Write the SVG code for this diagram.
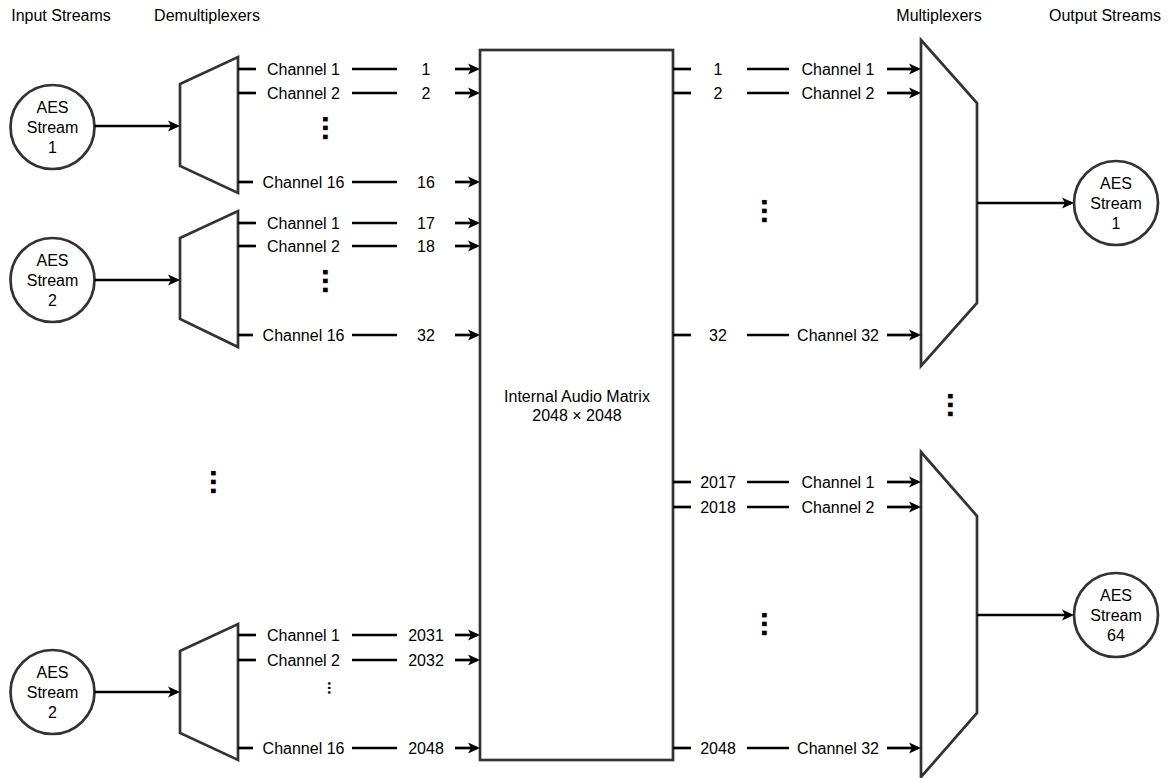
<svg xmlns="http://www.w3.org/2000/svg" width="1171" height="778" viewBox="0 0 1171 778">
<style>
.t{font-family:"Liberation Sans",Arial,Helvetica,sans-serif;font-size:16px;fill:#000;text-anchor:middle}
.shape{fill:#fff;stroke:#333;stroke-width:2.7}
.ln{stroke:#000;stroke-width:2.7;fill:none}
.arr{marker-end:url(#ah)}
.dots{font-weight:bold;font-size:32px}
.sdots{font-weight:bold;font-size:16px}
</style>
<defs>
<marker id="ah" viewBox="0 0 12 12" refX="9" refY="6" markerWidth="12" markerHeight="12" markerUnits="userSpaceOnUse" orient="auto">
<path d="M0,0.5 L12,6 L0,11.5 L3,6 z" fill="#000"/>
</marker>
</defs>
<rect width="1171" height="778" fill="#fff"/>
<g id="headers">
<text class="t" x="61" y="21">Input Streams</text>
<text class="t" x="207" y="21">Demultiplexers</text>
<text class="t" x="939" y="21">Multiplexers</text>
<text class="t" x="1105" y="21">Output Streams</text>
</g>
<g id="in1"><circle class="shape" cx="52.5" cy="127" r="42"/><text class="t" x="52.5" y="112.5">AES</text><text class="t" x="52.5" y="132.5">Stream</text><text class="t" x="52.5" y="152.5">1</text></g>
<g id="in2"><circle class="shape" cx="52.5" cy="280" r="42"/><text class="t" x="52.5" y="265.5">AES</text><text class="t" x="52.5" y="285.5">Stream</text><text class="t" x="52.5" y="305.5">2</text></g>
<g id="in3"><circle class="shape" cx="52.5" cy="692" r="42"/><text class="t" x="52.5" y="677.5">AES</text><text class="t" x="52.5" y="697.5">Stream</text><text class="t" x="52.5" y="717.5">2</text></g>
<g id="demux1"><polygon class="shape" points="180,84 238,57 238,193 180,166"/></g>
<g id="demux2"><polygon class="shape" points="180,238 238,211 238,347 180,319"/></g>
<g id="demux3"><polygon class="shape" points="180,651 238,624 238,760 180,733"/></g>
<g id="matrix"><rect class="shape" x="480" y="50" width="193" height="710"/><text class="t" x="577" y="402">Internal Audio Matrix</text><text class="t" x="577" y="421">2048 × 2048</text></g>
<g id="mux1"><polygon class="shape" points="921,40 977,103 977,303 921,366"/></g>
<g id="mux2"><polygon class="shape" points="921,452 977,516 977,713 921,777"/></g>
<g id="out1"><circle class="shape" cx="1116" cy="203" r="42"/><text class="t" x="1116" y="188.5">AES</text><text class="t" x="1116" y="208.5">Stream</text><text class="t" x="1116" y="228.5">1</text></g>
<g id="out2"><circle class="shape" cx="1116" cy="615" r="42"/><text class="t" x="1116" y="600.5">AES</text><text class="t" x="1116" y="620.5">Stream</text><text class="t" x="1116" y="640.5">64</text></g>
<g id="connectors">
<line class="ln arr" x1="94.5" y1="126" x2="177" y2="126"/>
<line class="ln arr" x1="94.5" y1="280" x2="177" y2="280"/>
<line class="ln arr" x1="94.5" y1="692" x2="177" y2="692"/>
<line class="ln arr" x1="977" y1="203" x2="1071" y2="203"/>
<line class="ln arr" x1="977" y1="615" x2="1071" y2="615"/>
<line class="ln" x1="238" y1="69" x2="256" y2="69"/><text class="t" x="303.5" y="74.5">Channel 1</text><line class="ln" x1="352" y1="69" x2="397" y2="69"/><text class="t" x="426" y="74.5">1</text><line class="ln arr" x1="455" y1="69" x2="477" y2="69"/>
<line class="ln" x1="238" y1="93" x2="256" y2="93"/><text class="t" x="303.5" y="98.5">Channel 2</text><line class="ln" x1="352" y1="93" x2="397" y2="93"/><text class="t" x="426" y="98.5">2</text><line class="ln arr" x1="455" y1="93" x2="477" y2="93"/>
<line class="ln" x1="238" y1="182" x2="253" y2="182"/><text class="t" x="303.5" y="187.5">Channel 16</text><line class="ln" x1="352" y1="182" x2="397" y2="182"/><text class="t" x="426" y="187.5">16</text><line class="ln arr" x1="455" y1="182" x2="477" y2="182"/>
<line class="ln" x1="238" y1="223" x2="256" y2="223"/><text class="t" x="303.5" y="228.5">Channel 1</text><line class="ln" x1="352" y1="223" x2="397" y2="223"/><text class="t" x="426" y="228.5">17</text><line class="ln arr" x1="455" y1="223" x2="477" y2="223"/>
<line class="ln" x1="238" y1="246" x2="256" y2="246"/><text class="t" x="303.5" y="251.5">Channel 2</text><line class="ln" x1="352" y1="246" x2="397" y2="246"/><text class="t" x="426" y="251.5">18</text><line class="ln arr" x1="455" y1="246" x2="477" y2="246"/>
<line class="ln" x1="238" y1="335" x2="253" y2="335"/><text class="t" x="303.5" y="340.5">Channel 16</text><line class="ln" x1="352" y1="335" x2="397" y2="335"/><text class="t" x="426" y="340.5">32</text><line class="ln arr" x1="455" y1="335" x2="477" y2="335"/>
<line class="ln" x1="238" y1="635" x2="256" y2="635"/><text class="t" x="303.5" y="640.5">Channel 1</text><line class="ln" x1="352" y1="635" x2="397" y2="635"/><text class="t" x="426" y="640.5">2031</text><line class="ln arr" x1="455" y1="635" x2="477" y2="635"/>
<line class="ln" x1="238" y1="660" x2="256" y2="660"/><text class="t" x="303.5" y="665.5">Channel 2</text><line class="ln" x1="352" y1="660" x2="397" y2="660"/><text class="t" x="426" y="665.5">2032</text><line class="ln arr" x1="455" y1="660" x2="477" y2="660"/>
<line class="ln" x1="238" y1="748" x2="253" y2="748"/><text class="t" x="303.5" y="753.5">Channel 16</text><line class="ln" x1="352" y1="748" x2="397" y2="748"/><text class="t" x="426" y="753.5">2048</text><line class="ln arr" x1="455" y1="748" x2="477" y2="748"/>
<line class="ln" x1="673" y1="69" x2="691" y2="69"/><text class="t" x="718" y="74.5">1</text><line class="ln" x1="747" y1="69" x2="789" y2="69"/><text class="t" x="838" y="74.5">Channel 1</text><line class="ln arr" x1="887" y1="69" x2="918" y2="69"/>
<line class="ln" x1="673" y1="93" x2="691" y2="93"/><text class="t" x="718" y="98.5">2</text><line class="ln" x1="747" y1="93" x2="789" y2="93"/><text class="t" x="838" y="98.5">Channel 2</text><line class="ln arr" x1="887" y1="93" x2="918" y2="93"/>
<line class="ln" x1="673" y1="335" x2="691" y2="335"/><text class="t" x="718" y="340.5">32</text><line class="ln" x1="747" y1="335" x2="789" y2="335"/><text class="t" x="838" y="340.5">Channel 32</text><line class="ln arr" x1="887" y1="335" x2="918" y2="335"/>
<line class="ln" x1="673" y1="482" x2="691" y2="482"/><text class="t" x="718" y="487.5">2017</text><line class="ln" x1="747" y1="482" x2="789" y2="482"/><text class="t" x="838" y="487.5">Channel 1</text><line class="ln arr" x1="887" y1="482" x2="918" y2="482"/>
<line class="ln" x1="673" y1="507" x2="691" y2="507"/><text class="t" x="718" y="512.5">2018</text><line class="ln" x1="747" y1="507" x2="789" y2="507"/><text class="t" x="838" y="512.5">Channel 2</text><line class="ln arr" x1="887" y1="507" x2="918" y2="507"/>
<line class="ln" x1="673" y1="748" x2="691" y2="748"/><text class="t" x="718" y="753.5">2048</text><line class="ln" x1="747" y1="748" x2="789" y2="748"/><text class="t" x="838" y="753.5">Channel 32</text><line class="ln arr" x1="887" y1="748" x2="918" y2="748"/>
</g>
<g id="ellipses">
<text class="t dots" transform="translate(322.8,128) rotate(90)">...</text>
<text class="t dots" transform="translate(322.8,281) rotate(90)">...</text>
<text class="t dots" transform="translate(210.8,482) rotate(90)">...</text>
<text class="t dots" transform="translate(761.8,211) rotate(90)">...</text>
<text class="t dots" transform="translate(947.8,405) rotate(90)">...</text>
<text class="t dots" transform="translate(761.8,624) rotate(90)">...</text>
<text class="t sdots" transform="translate(327.9,688) rotate(90)">...</text>
</g>
</svg>
